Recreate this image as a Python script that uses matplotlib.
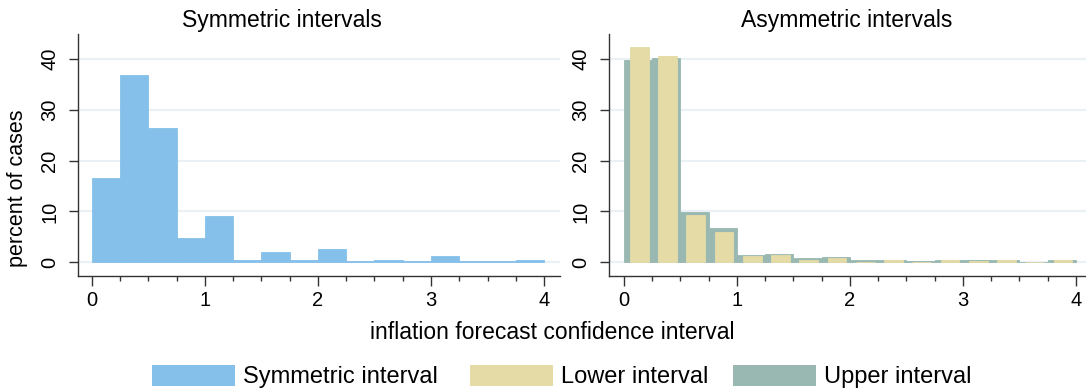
import matplotlib
matplotlib.use("Agg")
import matplotlib.pyplot as plt
from matplotlib.patches import Rectangle
from matplotlib.ticker import MultipleLocator

plt.rcParams['font.family'] = ['Liberation Sans', 'DejaVu Sans']

# ---- data ----
bin_left = [0.0, 0.25, 0.5, 0.75, 1.0, 1.25, 1.5, 1.75,
            2.0, 2.25, 2.5, 2.75, 3.0, 3.25, 3.5, 3.75]
symmetric = [16.6, 36.9, 26.4, 4.8, 9.2, 0.5, 2.1, 0.5,
             2.6, 0.3, 0.5, 0.3, 1.2, 0.3, 0.3, 0.5]
lower = [42.3, 40.5, 9.3, 6.0, 1.2, 1.4, 0.5, 0.8,
         0.1, 0.4, 0.1, 0.4, 0.3, 0.4, 0.0, 0.4]
upper = [39.8, 40.1, 9.9, 6.7, 1.4, 1.6, 0.8, 1.0,
         0.4, 0.5, 0.3, 0.45, 0.4, 0.4, 0.0, 0.45]
titles = ["Symmetric intervals", "Asymmetric intervals"]
legend_labels = ["Symmetric interval", "Lower interval", "Upper interval"]
xlabel = "inflation forecast confidence interval"
ylabel = "percent of cases"

# ---- style ----
c_sym = "#85c0ea"
c_low = "#e5dba6"
c_up = "#98b8b1"
grid_c = "#e9f1f4"
spine_c = "#333333"
W, H = 1086, 389
bw = 0.25

fig = plt.figure(figsize=(W / 100, H / 100), dpi=100)

def px_axes(x0, x1, ytop, ybot):
    return fig.add_axes([x0 / W, 1 - ybot / H, (x1 - x0) / W, (ybot - ytop) / H])

axL = px_axes(78, 560, 34, 276)
axR = px_axes(609, 1086, 34, 276)

axL.bar(bin_left, symmetric, width=bw, align='edge', color=c_sym,
        edgecolor=c_sym, linewidth=0.6, zorder=2)
axR.bar(bin_left, upper, width=bw, align='edge', color=c_up,
        edgecolor=c_up, linewidth=0.6, zorder=2)
axR.bar([b + 0.053 for b in bin_left], lower, width=0.165, align='edge',
        color=c_low, edgecolor=c_low, linewidth=0.6, zorder=3)

for ax, xlim in ((axL, (-0.121, 4.14)), (axR, (-0.133, 4.09))):
    ax.set_xlim(*xlim)
    ax.set_ylim(-2.7, 44.9)
    ax.set_xticks([0, 1, 2, 3, 4])
    ax.xaxis.set_minor_locator(MultipleLocator(0.25))
    ax.set_yticks([0, 10, 20, 30, 40])
    for s in ('top', 'right'):
        ax.spines[s].set_visible(False)
    for s in ('left', 'bottom'):
        ax.spines[s].set_color(spine_c)
        ax.spines[s].set_linewidth(1.0)
    ax.grid(axis='y', color=grid_c, linewidth=1.5, zorder=0)
    ax.set_axisbelow(True)
    ax.tick_params(axis='x', which='major', length=7, width=1.0, color=spine_c,
                   labelsize=14.5, pad=4)
    ax.tick_params(axis='x', which='minor', length=3.5, width=1.0, color=spine_c)
    ax.tick_params(axis='y', which='major', length=6.5, width=1.0, color=spine_c,
                   labelsize=14.5, pad=7)
    for lab in ax.get_yticklabels():
        lab.set_rotation(90)
        lab.set_va('center')

fig.text(282 / W, 1 - 27 / H, titles[0], ha='center', va='baseline', fontsize=16.5)
fig.text(847 / W, 1 - 27 / H, titles[1], ha='center', va='baseline', fontsize=16.5)
fig.text(552 / W, 1 - 339 / H, xlabel, ha='center', va='baseline', fontsize=16.5)
fig.text(18 / W, 1 - 188 / H, ylabel, ha='center', va='center', rotation=90, fontsize=15.5)

# legend
leg_items = [(152, c_sym), (470, c_low), (733, c_up)]
for (x0, col), lab in zip(leg_items, legend_labels):
    fig.patches.append(Rectangle((x0 / W, 1 - 386 / H), 83 / W, 21 / H,
                                 transform=fig.transFigure, color=col, linewidth=0))
    fig.text((x0 + 91) / W, 1 - 383 / H, lab, ha='left', va='baseline', fontsize=17)

fig.savefig("out.png", dpi=100)
